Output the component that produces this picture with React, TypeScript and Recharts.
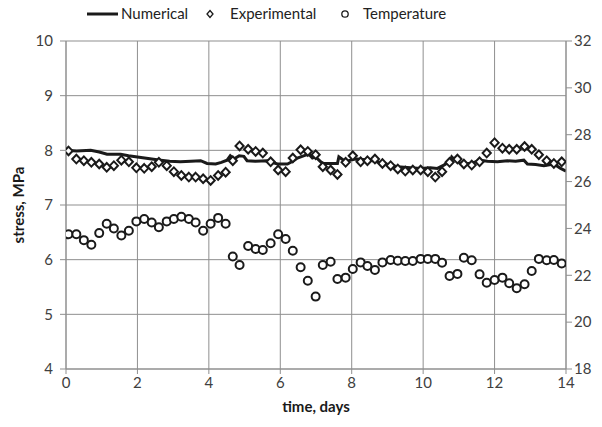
import { CartesianGrid, ComposedChart, Legend, Line, Scatter, XAxis, YAxis } from "recharts";

const FONT = "Lato, 'Open Sans', sans-serif";
const GRID = "#8f8f8f";
const INK = "#1a1a1a";

// sample times (days) shared by the experimental stress and the temperature readings
const sampleTime = [
  0.07, 0.29, 0.5, 0.71, 0.93, 1.14, 1.34, 1.55, 1.76, 1.97,
  2.19, 2.4, 2.6, 2.82, 3.02, 3.23, 3.44, 3.63, 3.84, 4.05,
  4.26, 4.47, 4.67, 4.86, 5.1, 5.31, 5.51, 5.73, 5.94, 6.15,
  6.35, 6.57, 6.77, 6.99, 7.19, 7.41, 7.6, 7.83, 8.03, 8.25,
  8.44, 8.65, 8.86, 9.09, 9.29, 9.5, 9.71, 9.93, 10.13, 10.34,
  10.53, 10.74, 10.96, 11.14, 11.36, 11.58, 11.78, 12.0, 12.22, 12.41,
  12.62, 12.84, 13.04, 13.24, 13.46, 13.66, 13.88,
];

const experimentalStress = [
  7.99, 7.84, 7.81, 7.78, 7.75, 7.69, 7.72, 7.82, 7.79, 7.68,
  7.67, 7.7, 7.78, 7.72, 7.61, 7.54, 7.51, 7.51, 7.48, 7.45,
  7.54, 7.6, 7.81, 8.08, 8.02, 7.98, 7.95, 7.79, 7.64, 7.61,
  7.86, 8.01, 7.98, 7.92, 7.7, 7.64, 7.56, 7.78, 7.9, 7.79,
  7.81, 7.84, 7.76, 7.72, 7.66, 7.62, 7.64, 7.64, 7.61, 7.51,
  7.61, 7.78, 7.84, 7.75, 7.73, 7.79, 7.95, 8.14, 8.04, 8.02,
  8.02, 8.07, 8.02, 7.92, 7.81, 7.76, 7.79,
];

const temperature = [
  23.75, 23.75, 23.5, 23.3, 23.8, 24.2, 24.0, 23.7, 23.9, 24.3,
  24.4, 24.25, 24.05, 24.3, 24.4, 24.5, 24.4, 24.25, 23.9, 24.2,
  24.45, 24.2, 22.8, 22.44, 23.25, 23.12, 23.08, 23.37, 23.75, 23.55,
  23.05, 22.34, 21.77, 21.09, 22.44, 22.58, 21.84, 21.9, 22.27, 22.55,
  22.4, 22.23, 22.55, 22.65, 22.62, 22.61, 22.61, 22.7, 22.7, 22.7,
  22.54, 21.97, 22.06, 22.75, 22.64, 22.04, 21.68, 21.8, 21.9, 21.66,
  21.45, 21.62, 22.18, 22.7, 22.64, 22.65, 22.5,
];

const numericalTime = [
  0, 0.3, 0.69, 0.93, 1.15, 1.53, 1.75, 2.0, 2.3, 2.65,
  2.9, 3.2, 3.5, 3.77, 3.95, 4.19, 4.35, 4.51, 4.6, 4.7, 4.85,
  4.98, 5.07, 5.3, 5.63, 5.92, 6.2, 6.35, 6.48, 6.65, 6.8,
  6.9, 6.99, 7.18, 7.4, 7.6, 7.64, 7.83, 8.0, 8.16, 8.53,
  8.9, 9.1, 9.28, 9.65, 9.93, 10.2, 10.4, 10.58, 10.75, 10.8, 10.86,
  11.05, 11.33, 11.61, 11.8, 12.08, 12.36, 12.59, 12.82, 12.92, 13.15,
  13.38, 13.66, 13.85, 14.0,
];

const numericalStress = [
  8.0, 7.99, 8.0, 7.97, 7.93, 7.93, 7.9, 7.88, 7.85, 7.82,
  7.8, 7.79, 7.8, 7.81, 7.76, 7.75, 7.78, 7.82, 7.9, 7.84, 7.9,
  7.89, 7.81, 7.8, 7.81, 7.75, 7.75, 7.8, 7.86, 7.9, 7.93,
  7.86, 7.88, 7.76, 7.76, 7.76, 7.88, 7.79, 7.83, 7.84, 7.82,
  7.76, 7.73, 7.7, 7.68, 7.67, 7.68, 7.67, 7.73, 7.8, 7.88, 7.84,
  7.76, 7.76, 7.82, 7.8, 7.79, 7.81, 7.8, 7.82, 7.75, 7.74,
  7.72, 7.75, 7.67, 7.62,
];

const xTicks = [0, 2, 4, 6, 8, 10, 12, 14];
const stressTicks = [4, 5, 6, 7, 8, 9, 10];
const tempTicks = [18, 20, 22, 24, 26, 28, 30, 32];

const numericalData = numericalTime.map((t, i) => ({ t, stress: numericalStress[i] }));
const experimentalData = sampleTime.map((t, i) => ({ t, stress: experimentalStress[i] }));
const temperatureData = sampleTime.map((t, i) => ({ t, temp: temperature[i] }));

const Diamond = (props: any) => {
  const { cx, cy } = props;
  if (cx == null || cy == null) return null;
  return (
    <path
      d={`M${cx},${cy - 4.3}L${cx + 4.1},${cy}L${cx},${cy + 4.3}L${cx - 4.1},${cy}Z`}
      fill="#fff"
      stroke={INK}
      strokeWidth={2}
    />
  );
};

const Ring = (props: any) => {
  const { cx, cy } = props;
  if (cx == null || cy == null) return null;
  return <circle cx={cx} cy={cy} r={4} fill="#fff" stroke={INK} strokeWidth={2} />;
};

const tickStyle = { fontFamily: FONT, fontSize: 15, fill: "#404040" };

function LegendRow() {
  const text = { fontFamily: FONT, fontSize: 15, color: "#222", position: "absolute" as const, top: 4 };
  return (
    <div style={{ position: "relative", width: 602, height: 26 }}>
      <svg width={602} height={26} style={{ position: "absolute", left: 0, top: 0 }}>
        <line x1={87} y1={14} x2={118} y2={14} stroke={INK} strokeWidth={3} />
        <path d="M210,10.5L213,14L210,17.5L207,14Z" fill="#fff" stroke={INK} strokeWidth={1.3} />
        <circle cx={345} cy={14} r={3.2} fill="#fff" stroke={INK} strokeWidth={1.3} />
      </svg>
      <span style={{ ...text, left: 121 }}>Numerical</span>
      <span style={{ ...text, left: 230 }}>Experimental</span>
      <span style={{ ...text, left: 363 }}>Temperature</span>
    </div>
  );
}

export default function App() {
  return (
    <div style={{ position: "absolute", left: 0, top: 0, background: "#fff" }}>
      <ComposedChart width={602} height={427} margin={{ top: 41, right: 0, bottom: 0, left: 0 }}>
        <CartesianGrid
          xAxisId="x"
          yAxisId="left"
          stroke={GRID}
          strokeWidth={1}
          verticalValues={xTicks}
          horizontalValues={stressTicks}
        />
        <XAxis
          xAxisId="x"
          dataKey="t"
          type="number"
          domain={[0, 14]}
          ticks={xTicks}
          allowDataOverflow
          height={58}
          stroke={GRID}
          tickLine={{ stroke: GRID }}
          tickSize={5}
          tickMargin={3}
          tick={tickStyle}
          label={{
            content: () => (
              <text x={316} y={412} textAnchor="middle" fontFamily={FONT} fontSize={15} fontWeight="bold" fill={INK}>
                time, days
              </text>
            ),
          }}
        />
        <YAxis
          yAxisId="left"
          orientation="left"
          type="number"
          domain={[4, 10]}
          ticks={stressTicks}
          allowDataOverflow
          width={66}
          stroke={GRID}
          tickLine={{ stroke: GRID }}
          tickSize={6}
          tickMargin={7}
          tick={tickStyle}
          label={{
            content: () => (
              <text
                x={24}
                y={205}
                transform="rotate(-90 24 205)"
                textAnchor="middle"
                fontFamily={FONT}
                fontSize={15}
                fontWeight="bold"
                fill={INK}
              >
                stress, MPa
              </text>
            ),
          }}
        />
        <YAxis
          yAxisId="right"
          orientation="right"
          type="number"
          domain={[18, 32]}
          ticks={tempTicks}
          allowDataOverflow
          width={36}
          stroke={GRID}
          tickLine={{ stroke: GRID }}
          tickSize={6}
          tickMargin={2}
          tick={tickStyle}
        />
        <Legend
          layout="horizontal"
          verticalAlign="middle"
          align="center"
          wrapperStyle={{ top: 0, left: 0, width: 602 }}
          content={() => <LegendRow />}
        />
        <Scatter
          name="Temperature"
          xAxisId="x"
          yAxisId="right"
          data={temperatureData}
          dataKey="temp"
          shape={Ring}
          isAnimationActive={false}
        />
        <Scatter
          name="Experimental"
          xAxisId="x"
          yAxisId="left"
          data={experimentalData}
          dataKey="stress"
          shape={Diamond}
          isAnimationActive={false}
        />
        <Line
          name="Numerical"
          xAxisId="x"
          yAxisId="left"
          data={numericalData}
          dataKey="stress"
          type="linear"
          stroke={INK}
          strokeWidth={3}
          dot={false}
          activeDot={false}
          isAnimationActive={false}
        />
      </ComposedChart>
    </div>
  );
}
